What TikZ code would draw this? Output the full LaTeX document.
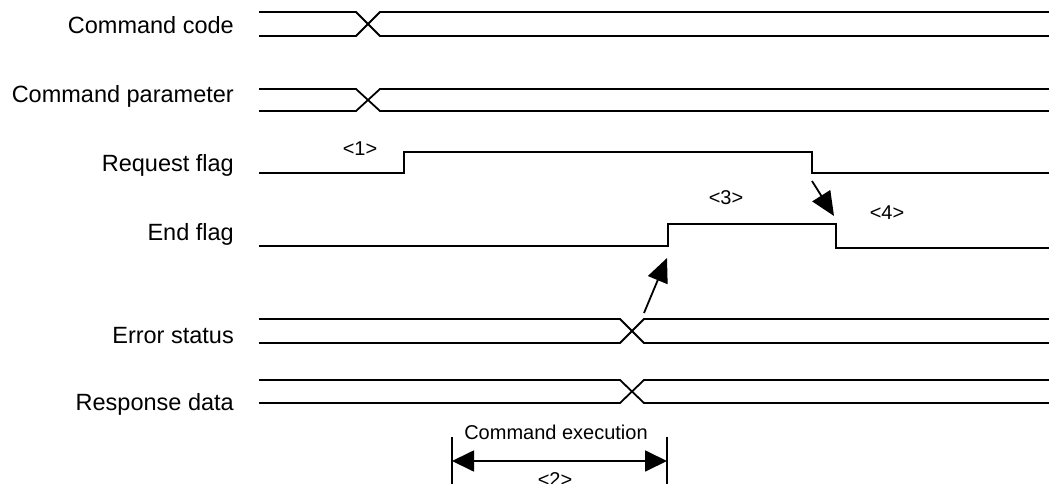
\documentclass[tikz,border=0pt]{standalone}
\usepackage{fontspec}
\setmainfont{Liberation Sans}
\usetikzlibrary{arrows.meta}
\begin{document}
\begin{tikzpicture}[x=1pt,y=-1pt,
  sig/.style={line width=1.8pt, line join=miter},
  lbl/.style={anchor=east, inner sep=0pt, font=\fontsize{23.5}{26}\selectfont},
  tag/.style={inner sep=0pt, font=\fontsize{20}{22}\selectfont},
  bigarrow/.style={line width=1.8pt, -{Triangle[length=24pt,width=21pt]}},
  dimarrow/.style={line width=1.8pt, {Triangle[length=22pt,width=21pt]}-{Triangle[length=22pt,width=21pt]}}]
\useasboundingbox (0,0) rectangle (1049,484);
% labels
\node[lbl] (lcc) at (234,25) {Command code};
\node[lbl] (lcp) at (234,96) {Command parameter};
\node[lbl] (lrq) at (234,165) {Request flag};
\node[lbl] (lef) at (234,234) {End flag};
\node[lbl] (les) at (234,336) {Error status};
\node[lbl] (lrd) at (234,404) {Response data};
% Command code bus
\draw[sig] (259,12) -- (356,12) -- (380,36) -- (1049,36);
\draw[sig] (259,36) -- (356,36) -- (380,12) -- (1049,12);
% Command parameter bus
\draw[sig] (259,89) -- (356,89) -- (380,111) -- (1049,111);
\draw[sig] (259,111) -- (356,111) -- (380,89) -- (1049,89);
% Request flag
\draw[sig] (259,173) -- (404,173) -- (404,152) -- (812,152) -- (812,173) -- (1049,173);
% End flag
\draw[sig] (259,246) -- (668,246) -- (668,224) -- (836,224) -- (836,248) -- (1049,248);
% Error status bus
\draw[sig] (259,319) -- (620,319) -- (644,343) -- (1049,343);
\draw[sig] (259,343) -- (620,343) -- (644,319) -- (1049,319);
% Response data bus
\draw[sig] (259,380) -- (620,380) -- (644,403) -- (1049,403);
\draw[sig] (259,403) -- (620,403) -- (644,380) -- (1049,380);
% tags
\node[tag] (t1) at (360,149) {<1>};
\node[tag] (t3) at (726,198) {<3>};
\node[tag] (t4) at (887,213) {<4>};
% arrows
\coordinate (a1s) at (644,313);
\coordinate (a1e) at (667,258);
\draw[bigarrow] (a1s) -- (a1e);
\coordinate (a2s) at (812,181);
\coordinate (a2e) at (834,216);
\draw[bigarrow] (a2s) -- (a2e);
% command execution dimension
\coordinate (d1t) at (452,437);
\coordinate (d1b) at (452,490);
\coordinate (d2t) at (667,437);
\coordinate (d2b) at (667,490);
\draw[sig] (d1t) -- (d1b);
\draw[sig] (d2t) -- (d2b);
\coordinate (m1) at (452,461);
\coordinate (m2) at (667,461);
\draw[dimarrow] (m1) -- (m2);
\node[tag] (tce) at (556,432) {Command execution};
\node[tag, anchor=north] (t2) at (555,472) {<2>};
\end{tikzpicture}
\end{document}
